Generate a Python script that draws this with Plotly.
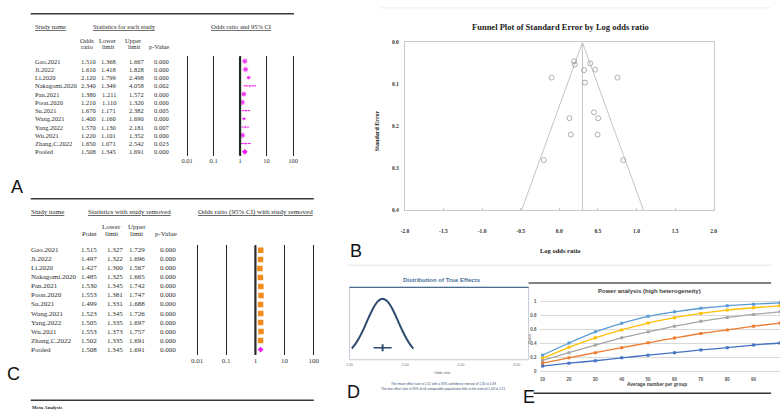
import math
import plotly.graph_objects as go

W, H = 784, 416


def X(p):
    return p / W


def Y(p):
    return 1 - p / H


# ---------------- data ----------------
studies = ["Gao.2021", "Ji.2022", "Li.2020", "Nakagomi.2020", "Pan.2021", "Poon.2020",
           "Su.2021", "Wang.2021", "Yang.2022", "Wu.2021", "Zhang.C.2022", "Pooled"]
or_each = [1.510, 1.610, 2.120, 2.340, 1.380, 1.210, 1.670, 1.400, 1.570, 1.220, 1.650, 1.508]
lower_each = [1.368, 1.418, 1.799, 1.349, 1.211, 1.110, 1.171, 1.160, 1.130, 1.101, 1.071, 1.345]
upper_each = [1.667, 1.828, 2.498, 4.058, 1.572, 1.320, 2.382, 1.690, 2.181, 1.352, 2.542, 1.691]
p_each = ["0.000", "0.000", "0.000", "0.002", "0.000", "0.000", "0.005", "0.000", "0.007",
          "0.000", "0.023", "0.000"]

point_removed = [1.515, 1.497, 1.427, 1.485, 1.530, 1.553, 1.499, 1.523, 1.505, 1.553, 1.502, 1.508]
lower_removed = [1.327, 1.322, 1.300, 1.325, 1.345, 1.381, 1.331, 1.345, 1.335, 1.373, 1.335, 1.345]
upper_removed = [1.729, 1.696, 1.567, 1.665, 1.742, 1.747, 1.688, 1.726, 1.697, 1.757, 1.691, 1.691]
p_removed = ["0.000"] * 12

forest_ticks = [0.01, 0.1, 1, 10, 100]
forest_tick_labels = ["0.01", "0.1", "1", "10", "100"]

funnel_log_or = [0.192, 0.201, 0.401, 0.465, 0.321, -0.099, 0.755, 0.333, 0.449, 0.132,
                 0.504, 0.150, 0.496, -0.201, 0.829]
funnel_se = [0.045, 0.053, 0.050, 0.065, 0.066, 0.084, 0.084, 0.096, 0.167, 0.181,
             0.181, 0.220, 0.220, 0.281, 0.281]
funnel_bound_x = [-0.487, 0.30, 1.09]
funnel_bound_y = [0.4, 0.0, 0.4]
funnel_center = 0.30
diamond_obs = (0.333, 0.409)
diamond_adj = (0.308, 0.426)
funnel_xticks = [-2.0, -1.5, -1.0, -0.5, 0.0, 0.5, 1.0, 1.5, 2.0]
funnel_yticks = [0.0, 0.1, 0.2, 0.3, 0.4]

dist_or = [1.03, 1.073, 1.127, 1.183, 1.242, 1.304, 1.370, 1.438, 1.51, 1.585, 1.665,
           1.748, 1.835, 1.927, 2.023, 2.124, 2.21]
dist_density = [0.146, 0.216, 0.325, 0.458, 0.607, 0.755, 0.882, 0.969, 1.0, 0.969, 0.882,
                0.755, 0.607, 0.458, 0.325, 0.216, 0.146]
mean_or, ci_low, ci_high = 1.51, 1.35, 1.69
ci_level = 0.16
dist_ticks = [1, 2, 4, 8]
dist_tick_labels = ["1.00", "2.00", "4.00", "8.00"]

n_per_group = [10, 20, 30, 40, 50, 60, 70, 80, 90, 100]
power_series = [
    [0.234, 0.407, 0.565, 0.687, 0.785, 0.850, 0.900, 0.935, 0.958, 0.977],
    [0.190, 0.346, 0.480, 0.593, 0.690, 0.766, 0.827, 0.874, 0.907, 0.935],
    [0.160, 0.270, 0.378, 0.480, 0.565, 0.645, 0.715, 0.770, 0.813, 0.850],
    [0.120, 0.196, 0.270, 0.340, 0.410, 0.477, 0.542, 0.593, 0.645, 0.690],
    [0.080, 0.120, 0.155, 0.196, 0.234, 0.270, 0.308, 0.340, 0.378, 0.407],
]
power_colors = ["#5b9bd5", "#ffc000", "#a5a5a5", "#ed7d31", "#4472c4"]
power_yticks = [0, 0.2, 0.4, 0.6, 0.8, 1]
power_ytick_labels = ["0", "0.2", "0.4", "0.6", "0.8", "1"]

# ---------------- figure ----------------
fig = go.Figure()
MAG = "#ee1cee"
ORANGE = "#f28c1c"
SERIF = "Liberation Serif"
SANS = "Liberation Sans"

# Panel A forest
nA = len(studies) - 1
sizesA = []
for lo, up in zip(lower_each[:nA], upper_each[:nA]):
    w = math.log(up) - math.log(lo)
    sizesA.append(max(3, min(6, 1.5 / w)))
fig.add_trace(go.Scatter(
    x=or_each[:nA], y=list(range(nA)), mode="markers", xaxis="x", yaxis="y",
    marker=dict(color=MAG, size=sizesA, symbol="circle"),
    error_x=dict(type="data", symmetric=False,
                 array=[u - o for u, o in zip(upper_each[:nA], or_each[:nA])],
                 arrayminus=[o - l for o, l in zip(or_each[:nA], lower_each[:nA])],
                 color=MAG, thickness=1, width=0),
    showlegend=False, hoverinfo="skip"))
fig.add_trace(go.Scatter(
    x=[or_each[-1]], y=[nA], mode="markers", xaxis="x", yaxis="y",
    marker=dict(color=MAG, size=4.5, symbol="diamond"),
    showlegend=False, hoverinfo="skip"))

# Panel C forest
fig.add_trace(go.Scatter(
    x=point_removed[:nA], y=list(range(nA)), mode="markers", xaxis="x2", yaxis="y2",
    marker=dict(color=ORANGE, size=5.5, symbol="square"),
    error_x=dict(type="data", symmetric=False,
                 array=[u - o for u, o in zip(upper_removed[:nA], point_removed[:nA])],
                 arrayminus=[o - l for o, l in zip(point_removed[:nA], lower_removed[:nA])],
                 color=ORANGE, thickness=1, width=0),
    showlegend=False, hoverinfo="skip"))
fig.add_trace(go.Scatter(
    x=[point_removed[-1]], y=[nA], mode="markers", xaxis="x2", yaxis="y2",
    marker=dict(color=MAG, size=4.5, symbol="diamond"),
    showlegend=False, hoverinfo="skip"))

# Panel B funnel
fig.add_trace(go.Scatter(x=funnel_bound_x, y=funnel_bound_y, mode="lines", xaxis="x3", yaxis="y3",
                         line=dict(color="#c4c4c4", width=1), showlegend=False, hoverinfo="skip"))
fig.add_trace(go.Scatter(x=[funnel_center, funnel_center], y=[0, 0.4], mode="lines", xaxis="x3",
                         yaxis="y3", line=dict(color="#c4c4c4", width=1), showlegend=False,
                         hoverinfo="skip"))
fig.add_trace(go.Scatter(x=funnel_log_or, y=funnel_se, mode="markers", xaxis="x3", yaxis="y3",
                         marker=dict(symbol="circle-open", size=5, color="#9a9a9a",
                                     line=dict(width=0.8)),
                         showlegend=False, hoverinfo="skip"))
fig.add_trace(go.Scatter(x=[diamond_obs[0]], y=[diamond_obs[1]], mode="markers", xaxis="x3",
                         yaxis="y3", cliponaxis=False,
                         marker=dict(symbol="diamond-wide", size=7, color="#1620a8"),
                         showlegend=False, hoverinfo="skip"))
fig.add_trace(go.Scatter(x=[diamond_adj[0]], y=[diamond_adj[1]], mode="markers", xaxis="x3",
                         yaxis="y3", cliponaxis=False,
                         marker=dict(symbol="diamond-wide", size=6, color="#c81818"),
                         showlegend=False, hoverinfo="skip"))

# Panel D distribution
fig.add_trace(go.Scatter(x=dist_or, y=dist_density, mode="lines", xaxis="x4", yaxis="y4",
                         line=dict(color="#2d4b70", width=2, shape="spline"),
                         showlegend=False, hoverinfo="skip"))
fig.add_trace(go.Scatter(x=[ci_low, ci_high], y=[ci_level, ci_level], mode="lines", xaxis="x4",
                         yaxis="y4", line=dict(color="#2d4b70", width=1.6),
                         showlegend=False, hoverinfo="skip"))
fig.add_trace(go.Scatter(x=[mean_or], y=[ci_level], mode="markers", xaxis="x4", yaxis="y4",
                         marker=dict(symbol="line-ns", size=5, color="#2d4b70",
                                     line=dict(width=2, color="#2d4b70")),
                         showlegend=False, hoverinfo="skip"))

# Panel E power
for ys, c in zip(power_series, power_colors):
    fig.add_trace(go.Scatter(x=n_per_group, y=ys, mode="lines+markers", xaxis="x5", yaxis="y5",
                             line=dict(color=c, width=1.3, shape="spline", smoothing=0.6),
                             marker=dict(symbol="square", size=3, color=c),
                             showlegend=False, hoverinfo="skip"))

# ---------------- axes ----------------
forest_axis = dict(type="log", range=[-2.1, 2.1], tickvals=forest_ticks,
                   ticktext=forest_tick_labels, showgrid=True, gridcolor="#262626",
                   gridwidth=1.3, zeroline=False, showline=False, ticks="",
                   fixedrange=True)
fig.update_layout(
    xaxis=dict(domain=[X(182.3), X(294.7)], anchor="y",
               tickfont=dict(family=SERIF, size=6.5, color="#333"), **forest_axis),
    yaxis=dict(domain=[Y(155), Y(54)], anchor="x", range=[11.478, -0.598], visible=False),
    xaxis2=dict(domain=[X(192.05), X(315.95)], anchor="y2",
                tickfont=dict(family=SERIF, size=7, color="#333"), **forest_axis),
    yaxis2=dict(domain=[Y(357), Y(246)], anchor="x2", range=[11.585, -0.546], visible=False),
    xaxis3=dict(domain=[X(405), X(717)], anchor="y3", range=[-2, 2], tickvals=funnel_xticks,
                ticktext=["%.1f" % v for v in funnel_xticks], showline=True, mirror=True,
                linecolor="#c8c8c8", linewidth=1, ticks="inside", ticklen=2,
                tickcolor="#c8c8c8", showgrid=False, zeroline=False, ticklabelstandoff=15,
                tickfont=dict(family=SERIF, size=5.5, color="#333", weight="bold")),
    yaxis3=dict(domain=[Y(210), Y(40)], anchor="x3", range=[0.4, 0], tickvals=funnel_yticks,
                ticktext=["%.1f" % v for v in funnel_yticks], showline=True, mirror=True,
                linecolor="#c8c8c8", linewidth=1, ticks="", showgrid=False, zeroline=False,
                ticklabelstandoff=4,
                tickfont=dict(family=SERIF, size=5.5, color="#333", weight="bold")),
    xaxis4=dict(domain=[X(349), X(530)], anchor="y4", type="log", range=[0, 0.967],
                tickvals=dist_ticks, ticktext=dist_tick_labels, showline=False, ticks="",
                showgrid=False, zeroline=False, ticklabelstandoff=2,
                tickfont=dict(family=SANS, size=3.5, color="#777")),
    yaxis4=dict(domain=[Y(362), Y(288)], anchor="x4", range=[-0.047, 1.203], visible=False),
    xaxis5=dict(domain=[X(542), 1.0], anchor="y5", range=[9.2, 100], tickvals=n_per_group,
                ticks="", showgrid=False, showline=False, zeroline=False, ticklabelstandoff=2,
                tickfont=dict(family=SANS, size=4.5, color="#595959", weight="bold")),
    yaxis5=dict(domain=[Y(375.5), Y(299)], anchor="x5", range=[-0.02, 1.05],
                tickvals=power_yticks, ticktext=power_ytick_labels, showgrid=True,
                gridcolor="#d9d9d9", gridwidth=0.8, zeroline=False, showline=False, ticks="",
                ticklabelstandoff=3,
                tickfont=dict(family=SANS, size=4.5, color="#595959", weight="bold")),
)

# ---------------- shapes ----------------
shapes = []


def hline(y, x0, x1, color, width):
    shapes.append(dict(type="line", xref="paper", yref="paper", x0=X(x0), x1=X(x1),
                       y0=Y(y), y1=Y(y), line=dict(color=color, width=width)))


hline(11, 27, 293, "#3a3a3a", 1.5)
hline(198.5, 27, 313, "#3a3a3a", 1.5)
hline(403, 27, 313, "#3a3a3a", 1.5)
hline(5, 380, 775, "#ececec", 1)
hline(266, 347, 775, "#e4e4e4", 1)
hline(284, 530, 775, "#5a5a5a", 1.5)
hline(396, 535, 775, "#333333", 1.5)
# Forest reference lines at OR = 1
shapes.append(dict(type="line", xref="x", yref="paper", x0=1, x1=1, y0=Y(155), y1=Y(54),
                   line=dict(color="#1f2f1f", width=2.2)))
shapes.append(dict(type="line", xref="x2", yref="paper", x0=1, x1=1, y0=Y(357), y1=Y(246),
                   line=dict(color="#2a2a2a", width=2.2)))
# Panel D frame
shapes.append(dict(type="rect", xref="paper", yref="paper", x0=X(349), x1=X(530),
                   y0=Y(362), y1=Y(288.5), line=dict(color="#c3ccd8", width=1)))
hline(288.5, 349, 530, "#4d6b8f", 1.3)
fig.update_layout(shapes=shapes)

# ---------------- text ----------------
ann = []


def txt(s, x, y, size, xanchor="center", family=SERIF, color="#2b2b2b", bold=False,
        yref="paper", angle=0):
    ann.append(dict(text=s, x=X(x), y=(Y(y) if yref == "paper" else y), xref="paper",
                    yref=yref, showarrow=False, xanchor=xanchor, yanchor="middle",
                    textangle=angle, borderpad=0,
                    font=dict(family=family, size=size, color=color,
                              weight="bold" if bold else "normal")))


# Panel A table
fa = 6.5
txt("<u>Study name</u>", 30, 24, fa, "left")
txt("<u>Statistics for each study</u>", 122, 24, fa)
txt("<u>Odds ratio and 95% CI</u>", 239, 24, fa)
txt("Odds", 84, 38, fa); txt("ratio", 84, 44, fa)
txt("Lower", 105, 38, fa); txt("limit", 105, 44, fa)
txt("Upper", 131, 38, fa); txt("limit", 131, 44, fa)
txt("p-Value", 157, 44, fa)
for i, name in enumerate(studies):
    txt(name, 30, i, fa, "left", yref="y")
    txt("%.3f" % or_each[i], 85.5, i, fa, yref="y")
    txt("%.3f" % lower_each[i], 106, i, fa, yref="y")
    txt("%.3f" % upper_each[i], 134, i, fa, yref="y")
    txt(p_each[i], 159.5, i, fa, yref="y")

# Panel C table
fc = 7
txt("<u>Study name</u>", 26, 212, fc, "left")
txt("<u>Statistics with study removed</u>", 127, 212, fc)
txt("<u>Odds ratio (95% CI) with study removed</u>", 254, 212, fc)
txt("Point", 86, 234, fc)
txt("Lower", 109, 227, fc); txt("limit", 109, 234, fc)
txt("Upper", 134, 227, fc); txt("limit", 134, 234, fc)
txt("p-Value", 164, 234, fc)
for i, name in enumerate(studies):
    txt(name, 26, i, fc, "left", yref="y2")
    txt("%.3f" % point_removed[i], 86, i, fc, yref="y2")
    txt("%.3f" % lower_removed[i], 112, i, fc, yref="y2")
    txt("%.3f" % upper_removed[i], 134, i, fc, yref="y2")
    txt(p_removed[i], 166, i, fc, yref="y2")
txt("Meta Analysis", 27, 410.5, 5, "left", bold=True)

# Panel B texts
txt("Funnel Plot of Standard Error by Log odds ratio", 562, 24, 8.5, bold=True, color="#222")
txt("Log odds ratio", 562, 251, 6.5, bold=True, color="#222")
txt("Standard Error", 377, 130, 6, bold=True, color="#222", angle=-90)

# Panel D texts
txt("Distribution of True Effects", 443, 281, 6, family=SANS, bold=True, color="#4a6f9a")
txt("Odds ratio", 443, 375, 3.5, family=SANS, color="#666")
txt("The mean effect size is 1.51 with a 95% confidence interval of 1.35 to 1.69",
    444, 387, 3.2, family=SANS, color="#2d4b70")
txt("The true effect size in 95% of all comparable populations falls in the interval 1.03 to 2.21",
    444, 392, 3.2, family=SANS, color="#2d4b70")

# Panel E texts
txt("Power analysis (high heterogeneity)", 652, 292, 6, family=SANS, bold=True, color="#404040")
txt("Average number per group", 660, 387, 4.7, family=SANS, color="#404040", bold=True)
txt("Power", 532, 340, 3.5, family=SANS, color="#404040", angle=-90)

# Panel letters
for letter, lx, ly in [("A", 13, 186.5), ("C", 10, 376), ("B", 356, 252), ("D", 353, 394.5),
                       ("E", 530, 400)]:
    txt(letter, lx, ly, 18, family=SANS, color="#111")

fig.update_layout(annotations=ann, width=W, height=H, autosize=False,
                  margin=dict(l=0, r=0, t=0, b=0), paper_bgcolor="white",
                  plot_bgcolor="rgba(0,0,0,0)", font=dict(family=SANS))

fig.write_html("out.html", config={"displayModeBar": False},
               post_script="document.body.style.margin='0';document.body.style.padding='0';"
                           "document.body.style.overflow='hidden';"
                           "document.documentElement.style.overflow='hidden';")
